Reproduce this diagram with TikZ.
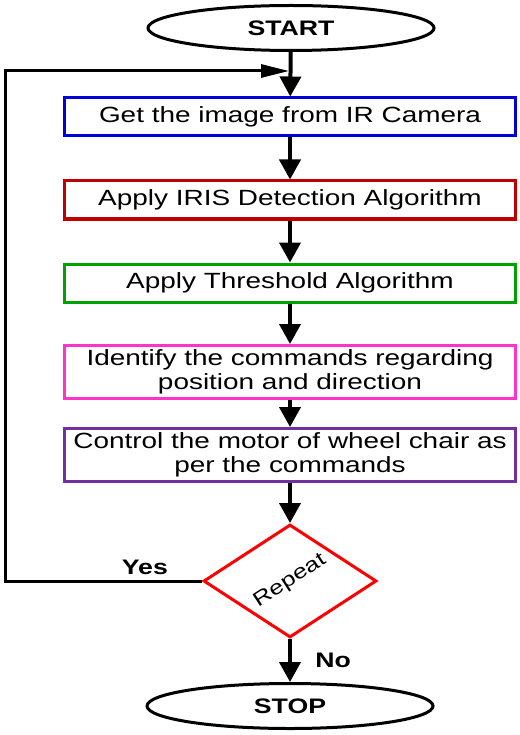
\documentclass[tikz,border=0pt]{standalone}
\usepackage{fontspec}
\setmainfont{Liberation Sans}[FakeStretch=1.27]
\usetikzlibrary{shapes.geometric,arrows.meta}
\definecolor{boxblue}{RGB}{0,0,220}
\definecolor{boxred}{RGB}{192,0,0}
\definecolor{boxgreen}{RGB}{0,160,0}
\definecolor{boxpink}{RGB}{255,51,204}
\definecolor{boxpurple}{RGB}{112,48,160}
\tikzset{
    stepbox/.style={draw, line width=3pt, minimum width=451pt, align=center,
        font=\fontsize{22}{24}\selectfont},
    term/.style={ellipse, draw, line width=3pt, minimum width=286pt,
        minimum height=45pt, font=\bfseries\fontsize{21}{24}\selectfont},
    flow/.style={line width=4pt, -{Triangle[length=20pt,width=21pt]}},
    tag/.style={font=\bfseries\fontsize{21}{24}\selectfont},
}
\begin{document}
\begin{tikzpicture}[x=1pt, y=-1pt]
    \useasboundingbox (0,0) rectangle (519,735);

    % Terminals
    \node[term] (start) at (291,28) {START};
    \node[term] (stop) at (290,706) {STOP};

    % Process steps
    \node[stepbox, draw=boxblue, minimum height=38pt] (camera) at (290,117) {Get the image from IR Camera};
    \node[stepbox, draw=boxred, minimum height=38pt] (iris) at (290,200) {Apply IRIS Detection Algorithm};
    \node[stepbox, draw=boxgreen, minimum height=38pt] (thresh) at (290,283) {Apply Threshold Algorithm};
    \node[stepbox, draw=boxpink, minimum height=53pt] (ident) at (290,372) {Identify the commands regarding\\position and direction};
    \node[stepbox, draw=boxpurple, minimum height=53pt] (motor) at (290,455) {Control the motor of wheel chair as\\per the commands};

    % Decision
    \node[diamond, draw=red, line width=3pt, minimum width=173pt, minimum height=113pt] (repeat) at (290,581) {};
    \node[rotate=33, font=\fontsize{20}{22}\selectfont] at (repeat.center) {Repeat};

    % Arrows
    \coordinate (merge) at (289,71);
    \coordinate (corner) at (5,71);
    \draw[flow] (start) -- (camera);
    \draw[flow] (camera) -- (iris);
    \draw[flow] (iris) -- (thresh);
    \draw[flow] (thresh) -- (ident);
    \draw[flow] (ident) -- (motor);
    \draw[flow] (motor) -- (repeat);
    \draw[flow] (repeat) -- (stop) node[midway, right=20pt, tag] {No};

    % Loop back
    \draw[line width=3pt, -{Triangle[length=28pt,width=13pt]}] (repeat.west) -| (corner)
        node[pos=0.145, above=1pt, tag] {Yes} -- (merge);
\end{tikzpicture}
\end{document}
